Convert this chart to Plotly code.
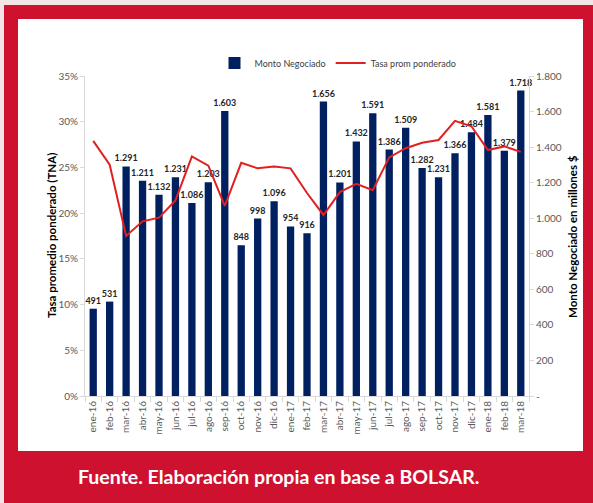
import plotly.graph_objects as go

months = ["ene-16","feb-16","mar-16","abr-16","may-16","jun-16","jul-16","ago-16","sep-16",
          "oct-16","nov-16","dic-16","ene-17","feb-17","mar-17","abr-17","may-17","jun-17",
          "jul-17","ago-17","sep-17","oct-17","nov-17","dic-17","ene-18","feb-18","mar-18"]
monto = [491, 531, 1291, 1211, 1132, 1231, 1086, 1203, 1603,
         848, 998, 1096, 954, 916, 1656, 1201, 1432, 1591,
         1386, 1509, 1282, 1231, 1366, 1484, 1581, 1379, 1718]
tasa = [27.9, 25.3, 17.5, 19.1, 19.5, 21.4, 26.2, 25.2, 20.8,
        25.5, 24.9, 25.1, 24.9, 22.2, 19.8, 22.3, 23.2, 22.5,
        26.1, 27.1, 27.7, 28.0, 30.1, 29.5, 26.9, 27.3, 26.7]
right_ticks = [0, 200, 400, 600, 800, 1000, 1200, 1400, 1600, 1800]
right_labels = ["-", "200", "400", "600", "800", "1.000", "1.200", "1.400", "1.600", "1.800"]
left_ticks = [0, 5, 10, 15, 20, 25, 30, 35]
left_labels = [f"{v}%" for v in left_ticks]

RED = "#CF1130"
NAVY = "#002060"
LINE = "#E02020"
TICK = "#595959"
AXIS = "#D9D9D9"

W, H = 593, 503
L, R, T, B = 85, 529, 76, 396

def px(x):
    return (x - L) / (R - L)

def py(y):
    return (B - y) / (B - T)

fig = go.Figure()
fig.add_trace(go.Bar(
    x=months, y=monto, name="Monto Negociado", yaxis="y",
    marker=dict(color=NAVY, line=dict(width=0)),
    text=[f"{v:,}".replace(",", ".") for v in monto],
    textposition="outside", cliponaxis=False, constraintext="none",
    textfont=dict(family="Lato", size=9, color="#262626", weight="bold"),
))
fig.add_trace(go.Scatter(
    x=months, y=tasa, name="Tasa prom ponderado", yaxis="y2", mode="lines",
    line=dict(color=LINE, width=2),
))

fig.update_layout(
    width=W, height=H,
    margin=dict(l=L, r=W - R, t=T, b=H - B, autoexpand=False),
    paper_bgcolor=RED, plot_bgcolor="rgba(0,0,0,0)",
    font=dict(family="Lato", color=TICK, size=10),
    bargap=0.556,
    showlegend=True,
    legend=dict(orientation="h", x=px(338), xanchor="center", y=py(63), yanchor="middle",
                font=dict(size=9, color="#404040"), bgcolor="rgba(0,0,0,0)",
                itemwidth=30, tracegroupgap=0),
    xaxis=dict(type="category", tickangle=-90, showgrid=False, showline=True,
               linecolor=AXIS, linewidth=1, ticks="outside", tickson="boundaries",
               ticklen=5, tickcolor=AXIS, tickfont=dict(size=10, color=TICK)),
    yaxis=dict(side="right", range=[0, 1800], tickvals=right_ticks, ticktext=right_labels,
               showgrid=False, showline=True, linecolor=AXIS, ticks="outside", ticklen=4,
               tickcolor=AXIS, zeroline=False, tickfont=dict(size=10, color=TICK)),
    yaxis2=dict(side="left", overlaying="y", range=[0, 35], tickvals=left_ticks,
                ticktext=left_labels, showgrid=False, showline=True, linecolor=AXIS,
                ticks="outside", ticklen=4, tickcolor=AXIS, zeroline=False,
                tickfont=dict(size=10, color=TICK)),
    shapes=[
        dict(type="rect", xref="paper", yref="paper", layer="below",
             x0=px(18), x1=px(583), y0=py(451), y1=py(19),
             fillcolor="white", line=dict(width=0)),
        dict(type="rect", xref="paper", yref="paper", layer="below",
             x0=px(0), x1=px(4), y0=py(503), y1=py(0),
             fillcolor="#F3E4E7", line=dict(width=0)),
        dict(type="rect", xref="paper", yref="paper", layer="below",
             x0=px(0), x1=px(593), y0=py(5), y1=py(0),
             fillcolor="#F3E4E7", line=dict(width=0)),
    ],
    annotations=[
        dict(text="<b>Tasa promedio ponderado (TNA)</b>", xref="paper", yref="paper",
             x=px(51), y=py(236), textangle=-90, showarrow=False,
             font=dict(size=11.5, color="#000000"), xanchor="center", yanchor="middle"),
        dict(text="<b>Monto Negociado en millones $</b>", xref="paper", yref="paper",
             x=px(572), y=py(237), textangle=-90, showarrow=False,
             font=dict(size=11.5, color="#000000"), xanchor="center", yanchor="middle"),
        dict(text="<b>Fuente. Elaboración propia en base a BOLSAR.</b>", xref="paper",
             yref="paper", x=px(278), y=py(476), showarrow=False,
             font=dict(size=19.5, color="white"), xanchor="center", yanchor="middle"),
    ],
)

fig.write_html("out.html", config={"displayModeBar": False},
               post_script="document.body.style.margin='0';document.body.style.overflow='hidden';")
